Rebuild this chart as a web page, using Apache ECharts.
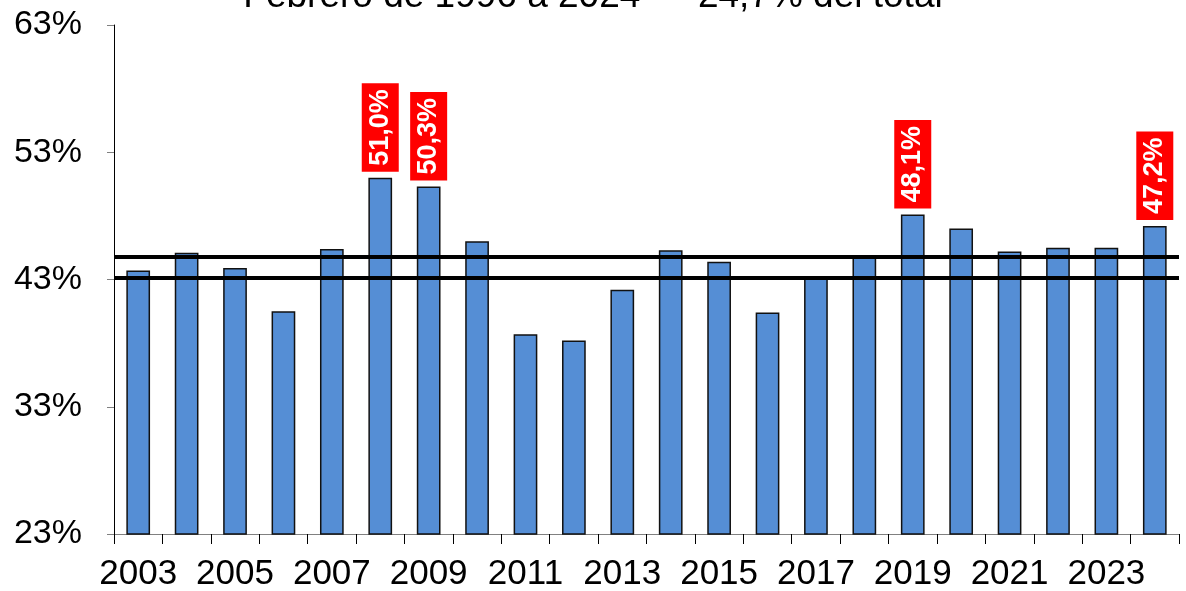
<!doctype html>
<html lang="es">
<head>
<meta charset="UTF-8">
<title>Participación anual</title>
<style>
    html, body { margin: 0; padding: 0; background: #fff; }
    #main { width: 1186px; height: 591px; }
</style>
</head>
<body>
<div id="main"></div>
<script src="https://cdn.jsdelivr.net/npm/echarts@6/dist/echarts.min.js"></script>
<script>
    // datos
    var years = ['2003','2004','2005','2006','2007','2008','2009','2010','2011','2012','2013',
                 '2014','2015','2016','2017','2018','2019','2020','2021','2022','2023','2024'];
    var values = [43.7, 45.1, 43.9, 40.5, 45.4, 51.0, 50.3, 46.0, 38.7, 38.2, 42.2,
                  45.3, 44.4, 40.4, 43.2, 44.8, 48.1, 47.0, 45.2, 45.5, 45.5, 47.2];
    var highlighted = ['2008', '2009', '2019', '2024'];
    var refLines = [44.8, 43.1];
    var yTicks = [23, 33, 43, 53, 63];
    var titleText = 'Febrero de 1996 a 2024 — 24,7% del total';

    var seriesData = [];
    for (var i = 0; i < years.length; i++) {
        var item = { value: values[i] };
        if (highlighted.indexOf(years[i]) >= 0) {
            item.label = { show: true };
        }
        seriesData.push(item);
    }

    var font = 'Liberation Sans, Arial, sans-serif';
    var myChart = echarts.init(document.getElementById('main'));
    var option = {
        animation: false,
        title: {
            text: titleText,
            left: 'center',
            top: -27,
            textStyle: { fontFamily: font, fontSize: 37, fontWeight: 'normal', color: '#000' }
        },
        grid: { left: 114, right: 7, top: 25, bottom: 57, outerBoundsMode: 'none' },
        xAxis: {
            type: 'category',
            data: years,
            axisLine: { lineStyle: { color: '#808080', width: 1 } },
            axisTick: { show: true, length: 10, interval: 0, lineStyle: { color: '#000' } },
            axisLabel: {
                interval: 1, margin: 23, color: '#000',
                fontFamily: font, fontSize: 35
            }
        },
        yAxis: {
            type: 'value',
            min: yTicks[0],
            max: yTicks[yTicks.length - 1],
            interval: 10,
            splitLine: { show: false },
            axisLine: { show: true, lineStyle: { color: '#000', width: 1 } },
            axisTick: { show: true, length: 7, lineStyle: { color: '#808080' } },
            axisLabel: {
                margin: 32, color: '#000',
                fontFamily: font, fontSize: 34,
                formatter: function (v) { return v + '%'; }
            }
        },
        series: [{
            type: 'bar',
            data: seriesData,
            barWidth: '49%',
            itemStyle: { color: '#558ED5', borderColor: '#111', borderWidth: 1.5 },
            label: {
                show: false,
                position: 'top',
                rotate: 90,
                align: 'left',
                verticalAlign: 'middle',
                distance: 6,
                color: '#fff',
                fontFamily: font,
                fontWeight: 'bold',
                fontSize: 27,
                backgroundColor: '#FF0000',
                padding: [6, 6, 4, 6],
                formatter: function (p) { return p.value.toFixed(1).replace('.', ',') + '%'; }
            },
            markLine: {
                silent: true,
                symbol: 'none',
                label: { show: false },
                lineStyle: { color: '#000', width: 4, type: 'solid' },
                data: refLines.map(function (v) { return { yAxis: v }; })
            }
        }]
    };
    myChart.setOption(option);
</script>
</body>
</html>
